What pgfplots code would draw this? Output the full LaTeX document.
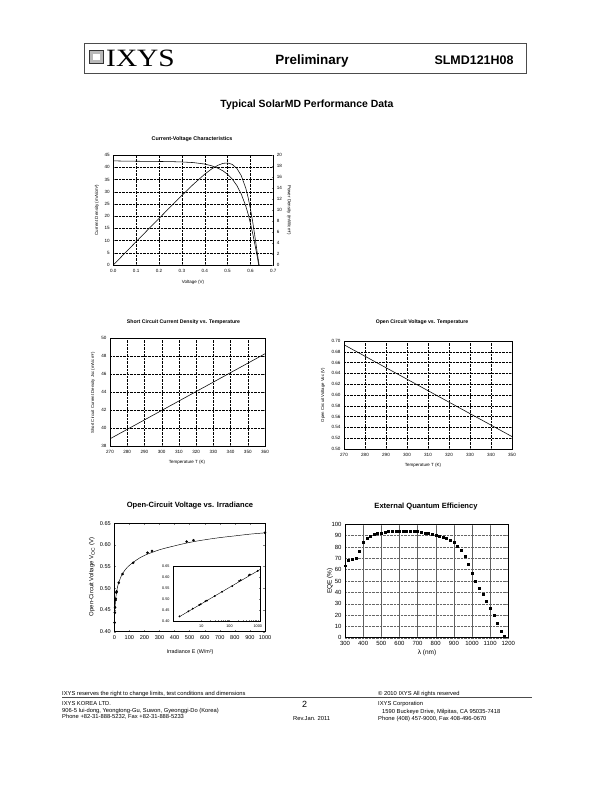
\documentclass[border=0pt]{standalone}
\usepackage{fontspec}
\setmainfont{Liberation Sans}
\newfontfamily\timesfont{Liberation Serif}
\usepackage{pgfplots}
\pgfplotsset{compat=1.18}
\pgfplotsset{
  tiny chart/.style={scale only axis, axis line style={line width=0.4pt},
    tick label style={font=\fontsize{4.6}{5}\selectfont},
    /pgf/number format/assume math mode=true,
    /pgf/number format/1000 sep={},
    grid=major, major grid style={densely dotted, black, line width=0.3pt},
    major tick length=1.5pt, tick style={line width=0.3pt},
    xticklabel style={yshift=-0.5pt}},
  mid chart/.style={scale only axis, axis line style={line width=0.5pt},
    tick label style={font=\fontsize{5.6}{6}\selectfont},
    /pgf/number format/assume math mode=true,
    /pgf/number format/1000 sep={},
    major tick length=2pt, tick style={line width=0.35pt}},
}
\begin{document}
\begin{tikzpicture}
\fill[white] (0,0) rectangle (611bp,-791bp);

% ---------- header ----------
\draw[gray!60!black, line width=0.5pt] (84bp,-43bp) rectangle (526bp,-73bp);
\fill[gray!55] (89.5bp,-50bp) rectangle (103bp,-63.5bp);
\fill[white] (93bp,-53.5bp) rectangle (99.5bp,-60bp);
\draw[gray!40!black, line width=0.3pt] (89.5bp,-50bp) rectangle (103bp,-63.5bp);
\node[anchor=west, inner sep=0pt, font=\timesfont\fontsize{25}{25}\selectfont, xscale=1.18] at (106bp,-58.5bp) {IXYS};
\node[anchor=base, inner sep=0pt, font=\fontsize{13.5}{14}\selectfont\bfseries] at (312bp,-64.5bp) {Preliminary};
\node[anchor=base, inner sep=0pt, font=\fontsize{12.5}{13}\selectfont\bfseries] at (474bp,-64.5bp) {SLMD121H08};
\node[anchor=base, inner sep=0pt, font=\fontsize{10.5}{11}\selectfont\bfseries] at (307bp,-107.5bp) {Typical SolarMD Performance Data};

% ---------- chart 1: I-V ----------
\node[font=\fontsize{5.4}{6}\selectfont\bfseries, inner sep=0pt] at (192bp,-139bp) {Current-Voltage Characteristics};
\begin{axis}[tiny chart, at={(113.3bp,-155bp)}, anchor=north west,
  width=160bp, height=110bp, xmin=0, xmax=0.7, ymin=0, ymax=45,
  xtick={0,0.1,0.2,0.3,0.4,0.5,0.6,0.7},
  xticklabels={0.0,0.1,0.2,0.3,0.4,0.5,0.6,0.7},
  ytick={0,5,10,15,20,25,30,35,40,45}]
\addplot[black, line width=0.55pt] coordinates {
(0,42.6) (0.05,42.5) (0.1,42.45) (0.15,42.4) (0.2,42.35) (0.25,42.3) (0.3,42.15)
(0.35,41.9) (0.4,41.3) (0.43,40.6) (0.46,39.5) (0.48,38.5) (0.5,37.1) (0.52,35.2)
(0.54,32.6) (0.56,29.0) (0.58,24.0) (0.59,20.8) (0.60,17.0) (0.61,12.8) (0.62,8.2)
(0.63,3.4) (0.636,0)};
\end{axis}
\begin{axis}[tiny chart, grid=none, at={(113.3bp,-155bp)}, anchor=north west,
  width=160bp, height=110bp, xmin=0, xmax=0.7, ymin=0, ymax=20,
  axis y line*=right, axis x line=none,
  ytick={0,2,4,6,8,10,12,14,16,18,20}]
\addplot[black, line width=0.55pt] coordinates {
(0,0) (0.05,2.125) (0.1,4.245) (0.15,6.36) (0.2,8.47) (0.25,10.575) (0.3,12.645)
(0.35,14.665) (0.4,16.52) (0.43,17.46) (0.46,18.17) (0.48,18.48) (0.5,18.55)
(0.52,18.30) (0.54,17.60) (0.56,16.24) (0.58,13.92) (0.59,12.27) (0.60,10.2)
(0.61,7.81) (0.62,5.08) (0.63,2.14) (0.638,0)};
\end{axis}
\node[rotate=90, font=\fontsize{4.5}{5}\selectfont, inner sep=0pt] at (97bp,-210bp) {Current Density (mA/cm²)};
\node[rotate=-90, font=\fontsize{4.5}{5}\selectfont, inner sep=0pt] at (289bp,-210bp) {Power Density (mW/cm²)};
\node[font=\fontsize{4.5}{5}\selectfont, inner sep=0pt] at (193bp,-282bp) {Voltage (V)};

% ---------- chart 2: Jsc vs T ----------
\node[font=\fontsize{5.2}{6}\selectfont\bfseries, inner sep=0pt] at (183.5bp,-322bp) {Short Circuit Current Density vs. Temperature};
\begin{axis}[tiny chart, at={(110bp,-338bp)}, anchor=north west,
  width=155bp, height=108bp, xmin=270, xmax=360, ymin=38, ymax=50,
  xtick={270,280,290,300,310,320,330,340,350,360},
  ytick={38,40,42,44,46,48,50}]
\addplot[black, line width=0.55pt] coordinates {
(270,38.8) (280,39.85) (290,40.9) (300,41.95) (310,43.0) (320,44.05)
(330,45.1) (340,46.15) (350,47.2) (360,48.25)};
\end{axis}
\node[rotate=90, font=\fontsize{4.3}{5}\selectfont, inner sep=0pt] at (93bp,-393bp) {Short Circuit Current Density Jsc (mA/cm²)};
\node[font=\fontsize{4.5}{5}\selectfont, inner sep=0pt] at (187bp,-462bp) {Temperature T (K)};

% ---------- chart 3: Voc vs T ----------
\node[font=\fontsize{5.2}{6}\selectfont\bfseries, inner sep=0pt] at (422bp,-322bp) {Open Circuit Voltage vs. Temperature};
\begin{axis}[tiny chart, at={(344bp,-341bp)}, anchor=north west,
  width=168bp, height=108bp, xmin=270, xmax=350, ymin=0.50, ymax=0.70,
  xtick={270,280,290,300,310,320,330,340,350},
  ytick={0.50,0.52,0.54,0.56,0.58,0.60,0.62,0.64,0.66,0.68,0.70},
  yticklabels={0.50,0.52,0.54,0.56,0.58,0.60,0.62,0.64,0.66,0.68,0.70}]
\addplot[black, line width=0.55pt] coordinates {
(270,0.693) (280,0.6718) (290,0.6505) (300,0.6293) (310,0.608) (320,0.5868)
(330,0.5655) (340,0.5443) (350,0.523)};
\end{axis}
\node[rotate=90, font=\fontsize{4.3}{5}\selectfont, inner sep=0pt] at (323bp,-395bp) {Open Circuit Voltage Voc (V)};
\node[font=\fontsize{4.5}{5}\selectfont, inner sep=0pt] at (423bp,-465bp) {Temperature T (K)};

% ---------- chart 4: Voc vs irradiance ----------
\node[font=\fontsize{7.6}{8}\selectfont\bfseries, inner sep=0pt] at (190bp,-506bp) {Open-Circuit Voltage vs. Irradiance};
\begin{axis}[mid chart, at={(114.3bp,-523.3bp)}, anchor=north west,
  width=150.7bp, height=108.4bp, xmin=0, xmax=1000, ymin=0.40, ymax=0.65,
  xtick={0,100,200,300,400,500,600,700,800,900,1000},
  ytick={0.40,0.45,0.50,0.55,0.60,0.65},
  yticklabels={0.40,0.45,0.50,0.55,0.60,0.65}]
\addplot[black, line width=0.45pt, smooth] coordinates {
(1.7,0.42) (3,0.439) (5,0.455) (8,0.471) (12,0.484) (20,0.501) (30,0.514)
(50,0.531) (75,0.544) (100,0.553) (150,0.566) (200,0.576) (300,0.589)
(400,0.598) (500,0.606) (600,0.612) (700,0.617) (800,0.621) (900,0.625) (1000,0.628)};
\addplot[only marks, mark=*, mark size=1.1pt, black] coordinates {
(1.7,0.421) (3.5,0.444) (5,0.456) (8.5,0.473) (9.5,0.476) (14,0.49) (16,0.493)
(30,0.513) (55,0.533) (125,0.559) (220,0.582) (250,0.586) (480,0.608) (525,0.611) (1000,0.628)};
\end{axis}
\begin{axis}[mid chart, at={(173bp,-566bp)}, anchor=north west,
  width=87bp, height=55bp, xmode=log, xmin=1, xmax=1200, ymin=0.40, ymax=0.65,
  tick label style={font=\fontsize{3.8}{4}\selectfont},
  major tick length=1.2pt, minor tick length=0.8pt,
  xtick={10,100,1000}, xticklabels={10,100,1000},
  ytick={0.40,0.45,0.50,0.55,0.60,0.65},
  yticklabels={0.40,0.45,0.50,0.55,0.60,0.65}, axis line style={line width=0.35pt}]
\addplot[black, line width=0.4pt] coordinates {(1.7,0.42) (1200,0.634)};
\addplot[only marks, mark=*, mark size=0.7pt, black] coordinates {
(1.7,0.421) (3.5,0.444) (5,0.456) (8.5,0.473) (9.5,0.476) (14,0.49) (16,0.493)
(30,0.513) (55,0.533) (125,0.559) (220,0.582) (250,0.586) (480,0.608) (525,0.611) (1000,0.628)};
\end{axis}
\node[rotate=90, font=\fontsize{6}{7}\selectfont, inner sep=0pt] at (92bp,-577bp) {Open-Circuit Voltage V\textsubscript{OC} (V)};
\node[font=\fontsize{5.4}{6}\selectfont, inner sep=0pt] at (190bp,-652bp) {Irradiance E (W/m²)};

% ---------- chart 5: EQE ----------
\node[font=\fontsize{7.6}{8}\selectfont\bfseries, inner sep=0pt] at (426bp,-507bp) {External Quantum Efficiency};
\begin{axis}[mid chart, at={(345bp,-524.3bp)}, anchor=north west,
  width=163.3bp, height=113.4bp, xmin=300, xmax=1200, ymin=0, ymax=100,
  xtick={300,400,500,600,700,800,900,1000,1100,1200},
  ytick={0,10,20,30,40,50,60,70,80,90,100},
  tick label style={font=\fontsize{6}{6.5}\selectfont},
  xmajorgrids, ymajorgrids,
  x grid style={gray!75!black, line width=0.35pt},
  y grid style={densely dotted, gray!80!black, line width=0.35pt}]
\addplot[only marks, mark=square*, mark size=1pt, black] coordinates {
(300,63.5) (320,68) (340,69.5) (360,70) (380,76.5) (400,84) (420,87.5) (440,89.5)
(460,91) (480,92) (500,92.5) (520,93) (540,93.5) (560,93.5) (580,93.5) (600,94)
(620,94) (640,94) (660,94) (680,94) (700,93.5) (720,93) (740,92.5) (760,92)
(780,91.5) (800,90.5) (820,89.5) (840,88.5) (860,87.5) (880,86) (900,84)
(920,81) (940,77) (960,72) (980,65) (1000,57) (1020,50) (1040,43.5) (1060,38)
(1080,32) (1100,26) (1120,20) (1140,13) (1160,6) (1180,1)};
\end{axis}
\node[rotate=90, font=\fontsize{6.5}{7}\selectfont, inner sep=0pt] at (330bp,-581bp) {EQE (\%)};
\node[font=\fontsize{6.5}{7}\selectfont, inner sep=0pt] at (427bp,-653bp) {λ (nm)};

% ---------- footer ----------
\begin{scope}[every node/.style={anchor=base west, inner sep=0pt, font=\fontsize{5.8}{6}\selectfont}]
\node at (62bp,-695bp) {IXYS reserves the right to change limits, test conditions and dimensions};
\node at (378bp,-695bp) {© 2010 IXYS All rights reserved};
\draw[gray!60!black, line width=0.35pt] (62bp,-697.5bp) -- (532bp,-697.5bp);
\node at (62bp,-705.5bp) {IXYS KOREA LTD.};
\node at (378bp,-705.5bp) {IXYS Corporation};
\node at (62bp,-712.5bp) {906-5 Iui-dong, Yeongtong-Gu, Suwon, Gyeonggi-Do (Korea)};
\node at (382bp,-713.5bp) {1590 Buckeye Drive, Milpitas, CA 95035-7418};
\node at (62bp,-718.5bp) {Phone +82-31-888-5232, Fax +82-31-888-5233};
\node at (293bp,-720.5bp) {Rev.Jan. 2011};
\node at (378bp,-720.5bp) {Phone (408) 457-9000, Fax 408-496-0670};
\node[font=\fontsize{9}{10}\selectfont] at (302bp,-707bp) {2};
\end{scope}
\end{tikzpicture}
\end{document}
